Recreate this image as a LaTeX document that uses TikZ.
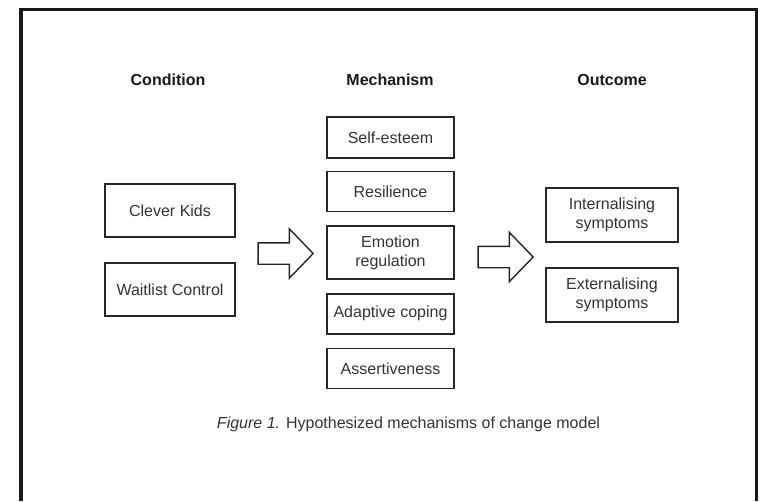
\documentclass[tikz,border=0pt]{standalone}
\usepackage{fontspec}
\setmainfont{Liberation Sans}
\usepackage{xcolor}
\usepackage{tikz}
\usetikzlibrary{positioning,shapes.arrows}

\begin{document}
\begin{tikzpicture}[x=1pt,y=-1pt,
  font=\fontsize{16}{19}\selectfont,
  head/.style={font=\fontsize{16}{19}\selectfont\bfseries, text=black!90},
  box/.style={draw=black!85, line width=1.6pt, align=center, text=black!80,
    inner sep=2pt, minimum width=130pt, minimum height=53pt},
  mbox/.style={box, minimum width=127pt, minimum height=40pt},
  obox/.style={box, minimum width=132pt, minimum height=54pt},
  bigarrow/.style={single arrow, draw=black!85, line width=1.4pt,
    minimum height=55pt, minimum width=48pt, single arrow head extend=14pt,
    single arrow tip angle=92, inner xsep=0pt, inner ysep=10pt,
    text height=0pt, text depth=0pt}]
\useasboundingbox (0,0) rectangle (763,501);
% outer frame
\draw[line width=3.5pt, black!90] (21,501) -- (21,9.5) -- (756.5,9.5) -- (756.5,501);

% column heads
\node[head] (cond) at (168,80) {Condition};
\node[head] (mech) at (390,80) {Mechanism};
\node[head] (outc) at (612,80) {Outcome};

% condition
\node[box] (ck) at (170,210.5) {Clever Kids};
\node[box] (wc) at (170,289.5) {Waitlist Control};

% mechanism
\node[mbox, minimum height=41pt] (se) at (390.5,137.5) {Self-esteem};
\node[mbox, below=12pt of se] (res) {Resilience};
\node[mbox, minimum height=53pt, below=13pt of res] (er) {Emotion\\regulation};
\node[mbox, below=13pt of er] (ac) {Adaptive coping};
\node[mbox, below=13pt of ac] (as) {Assertiveness};

% outcome
\node[obox] (oi) at (612,215) {Internalising\\symptoms};
\node[obox] (oe) at (612,295) {Externalising\\symptoms};

% block arrows
\node[bigarrow] (a1) at (280.5,253.5) {};
\node[bigarrow] (a2) at (500.5,257) {};

\node[text=black!80] (cap) at (408.5,424)
  {\textit{Figure 1.} Hypothesized mechanisms of change model};
\end{tikzpicture}
\end{document}
